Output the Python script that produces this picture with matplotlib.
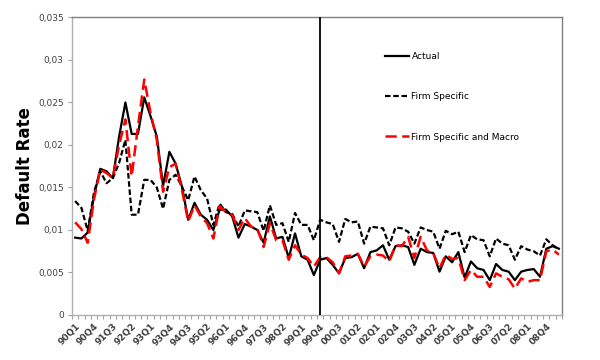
import matplotlib
matplotlib.use("Agg")
import matplotlib.pyplot as plt
from matplotlib.lines import Line2D
from matplotlib.ticker import FixedLocator, FuncFormatter

# quarters 90Q1 .. 09Q2
years = [f"{y % 100:02d}" for y in range(1990, 2010)]
quarters = [f"{y}Q{q}" for y in years for q in range(1, 5)][:78]

actual = [
    0.0091, 0.0090, 0.0097, 0.0140, 0.0172, 0.0169, 0.0161, 0.0210, 0.0250, 0.0213,
    0.0213, 0.0256, 0.0234, 0.0210, 0.0152, 0.0192, 0.0178, 0.0151, 0.0112, 0.0132,
    0.0118, 0.0112, 0.0100, 0.0124, 0.0124, 0.0116, 0.0091, 0.0107, 0.0104, 0.0100,
    0.0085, 0.0116, 0.0090, 0.0092, 0.0067, 0.0096, 0.0069, 0.0065, 0.0047, 0.0065,
    0.0067, 0.0059, 0.0049, 0.0067, 0.0068, 0.0072, 0.0055, 0.0074, 0.0076, 0.0082,
    0.0065, 0.0081, 0.0082, 0.0080, 0.0059, 0.0078, 0.0074, 0.0073, 0.0051, 0.0069,
    0.0062, 0.0074, 0.0044, 0.0063, 0.0055, 0.0053, 0.0041, 0.0060, 0.0053, 0.0051,
    0.0041, 0.0051, 0.0053, 0.0054, 0.0045, 0.0078, 0.0081, 0.0078,
]

firm_specific = [
    0.0134, 0.0126, 0.0099, 0.0144, 0.0169, 0.0155, 0.0161, 0.0179, 0.0206, 0.0118,
    0.0118, 0.0159, 0.0159, 0.0150, 0.0125, 0.0159, 0.0165, 0.0151, 0.0135, 0.0163,
    0.0147, 0.0137, 0.0106, 0.0131, 0.0121, 0.0119, 0.0104, 0.0123, 0.0122, 0.0121,
    0.0099, 0.0129, 0.0106, 0.0108, 0.0086, 0.0120, 0.0106, 0.0106, 0.0088, 0.0112,
    0.0109, 0.0107, 0.0086, 0.0113, 0.0109, 0.0110, 0.0084, 0.0104, 0.0103, 0.0102,
    0.0082, 0.0103, 0.0102, 0.0098, 0.0084, 0.0103, 0.0100, 0.0098, 0.0078, 0.0099,
    0.0095, 0.0098, 0.0074, 0.0094, 0.0089, 0.0088, 0.0069, 0.0090, 0.0084, 0.0082,
    0.0065, 0.0081, 0.0077, 0.0075, 0.0070, 0.0089, 0.0082, 0.0078,
]

firm_macro = [
    0.0109, 0.0101, 0.0085, 0.0136, 0.0171, 0.0167, 0.0161, 0.0200, 0.0230, 0.0163,
    0.0222, 0.0277, 0.0238, 0.0206, 0.0145, 0.0174, 0.0178, 0.0147, 0.0110, 0.0129,
    0.0116, 0.0108, 0.0090, 0.0128, 0.0121, 0.0118, 0.0100, 0.0114, 0.0104, 0.0102,
    0.0080, 0.0108, 0.0088, 0.0088, 0.0065, 0.0082, 0.0071, 0.0067, 0.0057, 0.0068,
    0.0068, 0.0062, 0.0049, 0.0069, 0.0070, 0.0072, 0.0057, 0.0069, 0.0071, 0.0070,
    0.0063, 0.0082, 0.0081, 0.0092, 0.0067, 0.0092, 0.0076, 0.0073, 0.0055, 0.0071,
    0.0066, 0.0067, 0.0041, 0.0053, 0.0045, 0.0045, 0.0033, 0.0049, 0.0045, 0.0042,
    0.0031, 0.0043, 0.0039, 0.0041, 0.0041, 0.0075, 0.0077, 0.0071,
]

split_quarter = "99Q4"
y_ticks = [0, 0.005, 0.01, 0.015, 0.02, 0.025, 0.03, 0.035]

x = list(range(len(quarters)))

fig = plt.figure(figsize=(6, 3.6), dpi=100)
ax = fig.add_axes([0.12, 0.125, 0.8167, 0.8264])

ax.plot(x, actual, color="black", lw=1.6, zorder=3)
ax.plot(x, firm_specific, color="black", lw=1.6, dashes=(2.5, 1.2), zorder=2)
ax.plot(x, firm_macro, color="#ff0000", lw=1.8, dashes=(4.5, 2.2), zorder=4)

ax.axvline(quarters.index(split_quarter), color="black", lw=1.3, zorder=5)

ax.set_xlim(-0.5, len(quarters) - 0.5)
ax.set_ylim(0, 0.035)
ax.set_yticks(y_ticks)
ax.yaxis.set_major_formatter(FuncFormatter(
    lambda v, p: "0" if v == 0 else f"{v:g}".replace(".", ",")))

# tick marks at category boundaries, labels every 3rd quarter
ax.xaxis.set_major_locator(FixedLocator(x[::3]))
ax.set_xticklabels(quarters[::3], rotation=45, ha="right", va="top",
                   rotation_mode="anchor", fontsize=6.5, fontweight="bold",
                   color="#404040")
ax.xaxis.set_minor_locator(FixedLocator([i - 0.5 for i in range(len(quarters) + 1)]))
ax.tick_params(axis="x", which="major", length=0, pad=5)
ax.tick_params(axis="x", which="minor", length=3, color="#a0a0a0", width=0.8)
ax.tick_params(axis="y", length=3, color="#a0a0a0", width=0.8,
               labelsize=6.5, labelcolor="#404040", pad=3)

for side in ["left", "bottom"]:
    ax.spines[side].set_color("#b0b0b0")
    ax.spines[side].set_linewidth(1.0)
for side in ["top", "right"]:
    ax.spines[side].set_color("#808080")
    ax.spines[side].set_linewidth(1.0)

ax.set_ylabel("Default Rate", fontsize=12, fontweight="bold", labelpad=3)

handles = [
    Line2D([], [], color="black", lw=1.6),
    Line2D([], [], color="black", lw=1.6, dashes=(2.5, 1.2)),
    Line2D([], [], color="#ff0000", lw=1.8, dashes=(4.5, 2.2)),
]
labels = ["Actual", "Firm Specific", "Firm Specific and Macro"]
ax.legend(handles, labels, loc="upper left", bbox_to_anchor=(0.632, 0.895),
          frameon=False, fontsize=6.5, handlelength=2.6, handletextpad=0.3,
          labelspacing=3.45, borderaxespad=0)

fig.savefig("out.png", dpi=100)
